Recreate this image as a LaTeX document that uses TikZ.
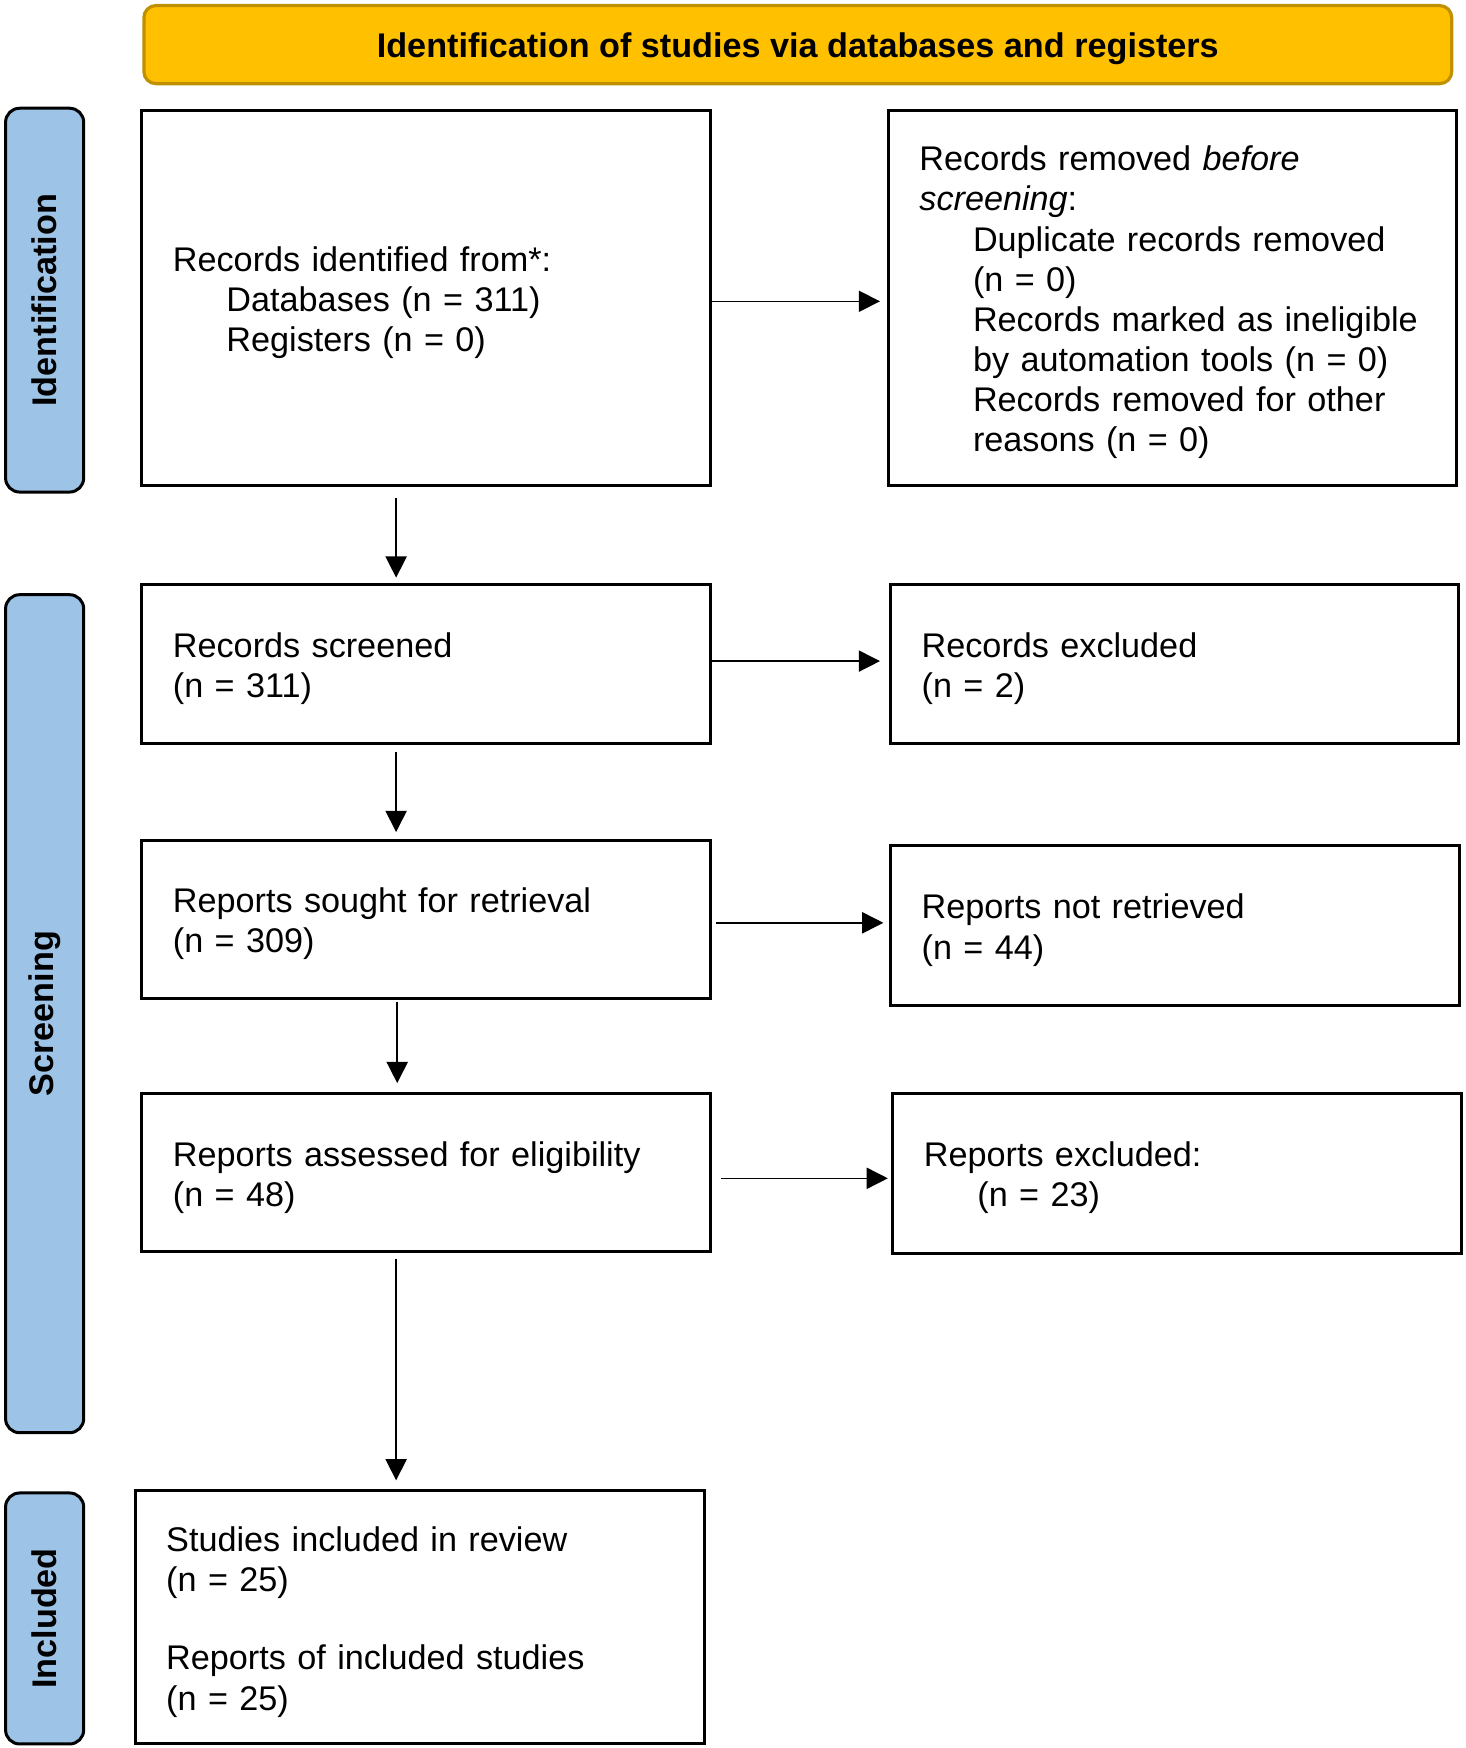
\documentclass[tikz,border=0pt]{standalone}
\usepackage{fontspec}
\setmainfont{Liberation Sans}
\usetikzlibrary{arrows.meta,calc}
\newlength\uu
\setlength\uu{0.5579pt}
\definecolor{hdrfill}{RGB}{255,192,0}
\definecolor{hdrline}{RGB}{191,144,0}
\definecolor{labfill}{RGB}{157,195,230}
\tikzset{
  txt/.style={font=\fontsize{17.1pt}{20.08pt}\selectfont},
  box/.style={txt, draw, line width=1.5pt, fill=white, align=left,
    inner xsep=0pt, inner ysep=0pt, execute at begin node={\rule{0pt}{17pt}}},
  hdr/.style={txt, draw=hdrline, fill=hdrfill, line width=1.6pt,
    rounded corners=6pt, text height=14pt, text depth=1.4pt,
    font=\fontsize{17.1pt}{20.08pt}\selectfont\bfseries},
  lab/.style={txt, draw=black, fill=labfill, line width=1.5pt,
    rounded corners=7pt, rotate=90, font=\fontsize{17.1pt}{20.08pt}\selectfont\bfseries},
  arr/.style={line width=0.75pt, -{Triangle[length=10.6pt,width=10.6pt]}},
}
\newcommand{\ind}{\hspace*{48\uu}}
\begin{document}
\begin{tikzpicture}[x=0.5579pt,y=-0.5579pt]
\useasboundingbox (0,0) rectangle (1313,1566.6);

% header
\node[hdr, minimum width=653.9pt, minimum height=39.05pt] (hdr) at (715,40)
  {Identification of studies via databases and registers};

% side labels
\node[lab, minimum width=191.9pt, minimum height=39.05pt] (labI) at (40,269) {Identification};
\node[lab, minimum width=419.0pt, minimum height=39.05pt] (labS) at (40,908.5) {Screening};
\node[lab, minimum width=125.5pt, minimum height=39.05pt] (labN) at (40,1450.5) {Included};

% boxes
\node[box, minimum width=284.5pt, minimum height=187.5pt, text width=253.3pt] (b1) at (382,267)
  {Records identified from*:\\ \ind Databases (n = 311)\\ \ind Registers (n = 0)};
\node[box, minimum width=284.0pt, minimum height=187.5pt, text width=252.7pt] (b2) at (1050.5,267)
  {Records removed \textit{before}\\ \textit{screening}:\\
   \ind Duplicate records removed\\ \ind (n = 0)\\
   \ind Records marked as ineligible\\ \ind by automation tools (n = 0)\\
   \ind Records removed for other\\ \ind reasons (n = 0)};
\node[box, minimum width=284.5pt, minimum height=79.2pt, text width=253.3pt] (b3) at (382,595)
  {Records screened\\ (n = 311)};
\node[box, minimum width=284.0pt, minimum height=79.2pt, text width=252.7pt] (b4) at (1052.5,595)
  {Records excluded\\ (n = 2)};
\node[box, minimum width=284.5pt, minimum height=79.2pt, text width=253.3pt] (b5) at (382,824)
  {Reports sought for retrieval\\ (n = 309)};
\node[box, minimum width=284.5pt, minimum height=79.8pt, text width=253.3pt] (b6) at (1053,829.5)
  {Reports not retrieved\\ (n = 44)};
\node[box, minimum width=284.5pt, minimum height=79.2pt, text width=253.3pt] (b7) at (382,1051)
  {Reports assessed for eligibility\\ (n = 48)};
\node[box, minimum width=284.5pt, minimum height=79.8pt, text width=253.3pt] (b8) at (1055,1051.5)
  {Reports excluded:\\ \ind (n = 23)};
\node[box, minimum width=284.5pt, minimum height=126.6pt, text width=253.3pt] (b9) at (376,1449.5)
  {Studies included in review\\ (n = 25)\\[19pt] Reports of included studies\\ (n = 25)};

% horizontal arrows
\draw[arr, shorten >=3.35pt] ([yshift=-1.7pt]b1.east) -- ([yshift=-1.7pt]b1.east -| b2.west);
\draw[arr, shorten >=4.46pt] ([yshift=1.4pt]b3.east) -- ([yshift=1.4pt]b3.east -| b4.west);
\draw[arr, shorten <=1.67pt, shorten >=2.79pt] ([yshift=-1.7pt]b5.east) -- ([yshift=-1.7pt]b5.east -| b6.west);
\draw[arr, shorten <=4.46pt, shorten >=1.67pt] ([yshift=-2.8pt]b7.east) -- ([yshift=-2.8pt]b7.east -| b8.west);

% vertical arrows
\draw[arr, shorten <=5.58pt, shorten >=2.79pt] ([xshift=-15.06pt]b1.south) -- ([xshift=-15.06pt]b1.south |- b3.north);
\draw[arr, shorten <=3.91pt, shorten >=3.35pt] ([xshift=-15.06pt]b3.south) -- ([xshift=-15.06pt]b3.south |- b5.north);
\draw[arr, shorten <=1.12pt, shorten >=4.46pt] ([xshift=-14.51pt]b5.south) -- ([xshift=-14.51pt]b5.south |- b7.north);
\draw[arr, shorten <=2.79pt, shorten >=4.46pt] ([xshift=-15.06pt]b7.south) -- ([xshift=-15.06pt]b7.south |- b9.north);
\end{tikzpicture}
\end{document}
